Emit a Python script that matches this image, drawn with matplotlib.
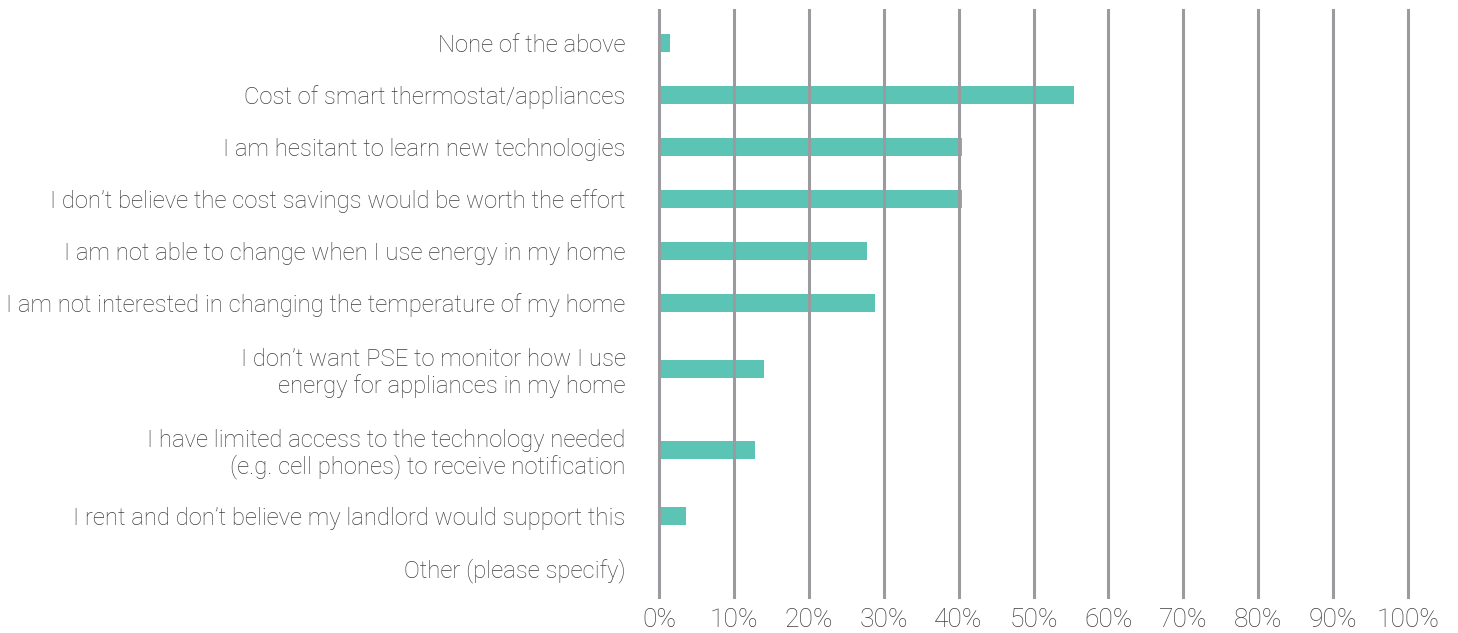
import matplotlib.pyplot as plt
import numpy as np

categories = [
    "None of the above",
    "Cost of smart thermostat/appliances",
    "I am hesitant to learn new technologies",
    "I don\u2019t believe the cost savings would be worth the effort",
    "I am not able to change when I use energy in my home",
    "I am not interested in changing the temperature of my home",
    "I don\u2019t want PSE to monitor how I use\nenergy for appliances in my home",
    "I have limited access to the technology needed\n(e.g. cell phones) to receive notification",
    "I rent and don\u2019t believe my landlord would support this",
    "Other (please specify)",
]
values = [1.5, 55.4, 40.4, 40.4, 27.8, 28.8, 14.0, 12.8, 3.6, 0.0]
ticks = list(range(0, 101, 10))
tick_labels = ["%d%%" % t for t in ticks]

bar_color = "#5bc4b4"
grid_color = "#9b9b9f"
text_color = "#3f3f3f"
font = dict(family=["Roboto", "DejaVu Sans"], weight="light")

# row heights depend on number of label lines
heights = np.array([1.0 if "\n" not in c else 1.55 for c in categories])
top_pad = 0.135
centers = top_pad + np.cumsum(heights) - heights / 2
total = top_pad + heights.sum() + 0.055

fig = plt.figure(figsize=(14.58, 6.33), dpi=100)
ax = fig.add_axes([659 / 1458, (633 - 597) / 633, 749 / 1458, 587 / 633])

ax.barh(centers, values, height=0.35, color=bar_color, zorder=1)
for t in ticks:
    ax.axvline(t, color=grid_color, lw=2.2, zorder=2, clip_on=False)

ax.set_xlim(0, 100)
ax.set_ylim(total, 0)
ax.set_xticks(ticks)
ax.set_xticklabels(tick_labels, fontsize=19, color=text_color, **font)
ax.set_yticks(centers)
ax.set_yticklabels(categories, fontsize=17.2, color=text_color, linespacing=1.15, **font)
ax.tick_params(axis="both", length=0)
ax.tick_params(axis="x", pad=8)
ax.tick_params(axis="y", pad=24)
for s in ax.spines.values():
    s.set_visible(False)

fig.savefig("out.png", dpi=100)
